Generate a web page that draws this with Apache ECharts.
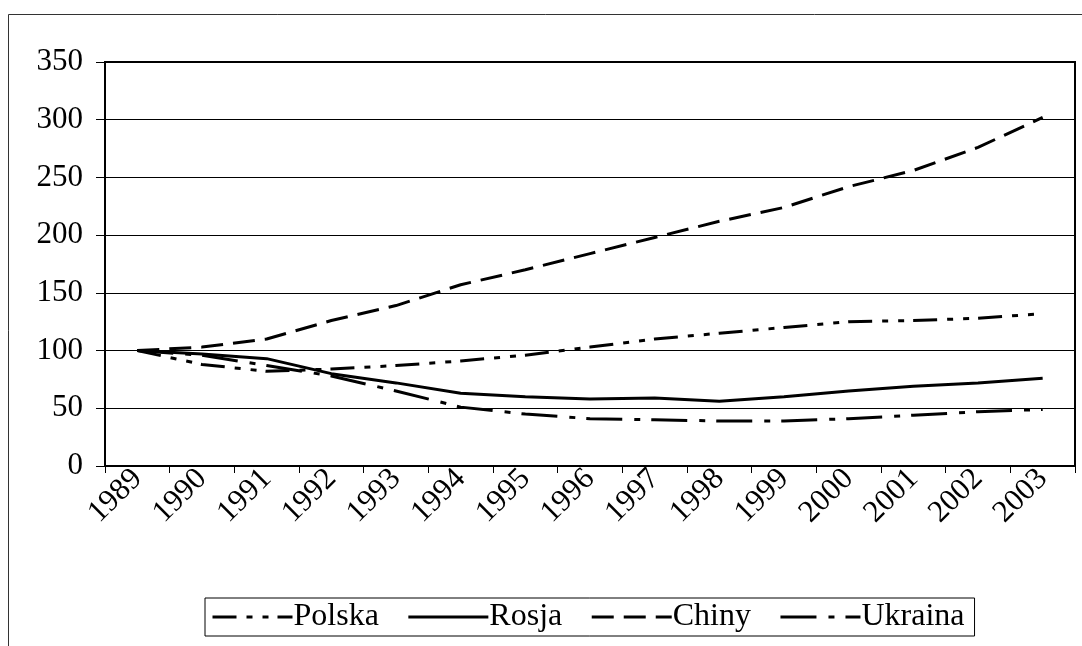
<!DOCTYPE html>
<html>
<head>
<meta charset="utf-8">
<script src="https://cdn.jsdelivr.net/npm/echarts@6/dist/echarts.min.js"></script>
<style>
  html, body { margin: 0; padding: 0; background: #fff; }
  #main { width: 1082px; height: 646px; }
</style>
</head>
<body>
<div id="main"></div>
<script>
  // lata
  var years = ['1989', '1990', '1991', '1992', '1993', '1994', '1995', '1996',
               '1997', '1998', '1999', '2000', '2001', '2002', '2003'];
  // indeks PKB, 1989 = 100
  var polska  = [100, 88, 82, 84, 87, 91, 96, 103, 110, 115, 120, 125, 126, 128, 132];
  var rosja   = [100, 97, 93, 80, 72, 63, 60, 58, 59, 56, 60, 65, 69, 72, 76];
  var chiny   = [100, 103, 110, 126, 139, 157, 170, 184, 198, 212, 224, 242, 256, 276, 302];
  var ukraina = [100, 96, 87, 78, 65, 51, 45, 41, 40, 39, 39, 41, 44, 47, 49];
  var yTicks  = [0, 350, 50]; // min, max, interval

  var font = 'Liberation Serif, Times New Roman, serif';

  function line(name, data, type) {
    return {
      name: name,
      type: 'line',
      data: data,
      symbol: 'none',
      showSymbol: false,
      color: '#000',
      itemStyle: { color: '#000' },
      lineStyle: { color: '#000', width: 3, type: type }
    };
  }

  var chart = echarts.init(document.getElementById('main'));
  chart.setOption({
    animation: false,
    backgroundColor: '#fff',
    color: ['#000'],
    graphic: [{
      type: 'rect',
      shape: { x: 8.5, y: 14.5, width: 1200, height: 800 },
      style: { fill: 'none', stroke: '#333', lineWidth: 1 },
      silent: true
    }],
    grid: {
      left: 105, right: 7, top: 62, bottom: 180,
      show: true, borderColor: '#000', borderWidth: 2,
      containLabel: false, outerBoundsMode: 'none'
    },
    legend: {
      left: 205, top: 598,
      itemWidth: 80, itemHeight: 14, itemGap: 28,
      padding: [3, 10, 3, 6],
      borderColor: '#000', borderWidth: 1,
      itemStyle: { opacity: 0 },
      lineStyle: { width: 3 },
      textStyle: { fontFamily: font, fontSize: 32, color: '#000', padding: [0, 0, 0, -4] },
      data: ['Polska', 'Rosja', 'Chiny', 'Ukraina']
    },
    xAxis: {
      type: 'category',
      data: years,
      boundaryGap: true,
      axisLine: { lineStyle: { color: '#000', width: 2 } },
      axisTick: { show: true, length: 7, lineStyle: { color: '#000', width: 1 } },
      axisLabel: { rotate: 45, margin: 8, color: '#000', fontFamily: font, fontSize: 31, interval: 0 },
      splitLine: { show: false }
    },
    yAxis: {
      type: 'value',
      min: yTicks[0], max: yTicks[1], interval: yTicks[2],
      axisLine: { show: true, lineStyle: { color: '#000', width: 2 } },
      axisTick: { show: true, length: 9, lineStyle: { color: '#000', width: 1 } },
      axisLabel: { margin: 22, color: '#000', fontFamily: font, fontSize: 31 },
      splitLine: { show: true, lineStyle: { color: '#000', width: 1 } }
    },
    series: [
      line('Polska', polska, [24, 10, 6, 10, 6, 9]),
      line('Rosja', rosja, 'solid'),
      line('Chiny', chiny, [22, 10]),
      line('Ukraina', ukraina, [36, 12, 6, 11])
    ]
  });
</script>
</body>
</html>
